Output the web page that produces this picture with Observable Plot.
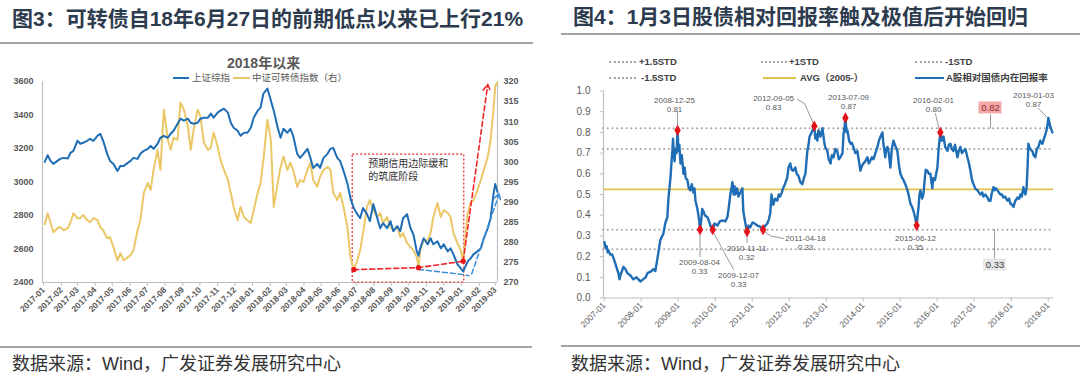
<!DOCTYPE html>
<html><head><meta charset="utf-8">
<script src="https://cdn.jsdelivr.net/npm/d3@7"></script>
<script src="https://cdn.jsdelivr.net/npm/@observablehq/plot@0.6"></script>
<style>
html,body{margin:0;padding:0;background:#fff;}
body{position:relative;width:1080px;height:375px;overflow:hidden;font-family:"Liberation Sans",Arial,"Noto Sans CJK SC",sans-serif;}
.a{position:absolute;white-space:nowrap;}
.title{font-size:21px;line-height:21px;font-weight:bold;color:#2d3b4e;font-family:"Liberation Sans","Noto Sans CJK SC",sans-serif;}
.rule{position:absolute;height:2px;background:#a3a3a3;}
.src{font-size:18px;line-height:18px;color:#333;font-family:"Liberation Sans","Noto Sans CJK SC",sans-serif;}
.lg{font-size:9.5px;line-height:10px;color:#595959;font-family:"Liberation Sans","Noto Sans CJK SC",sans-serif;}
.lgb{font-size:9.5px;line-height:10px;color:#404040;font-weight:bold;font-family:"Liberation Sans","Noto Sans CJK SC",sans-serif;}
.dotline{position:absolute;height:0;border-top:2px dotted #a6a6a6;}
.sw{position:absolute;height:2px;}
.plot{position:absolute;}
</style></head><body>
<div class="a title" style="left:12px;top:8px">图3：可转债自18年6月27日的前期低点以来已上行21%</div>
<div class="rule" style="left:0;top:42px;width:533px"></div>
<div class="a title" style="left:573px;top:6px">图4：1月3日股债相对回报率触及极值后开始回归</div>
<div class="rule" style="left:561px;top:33px;width:519px"></div>

<div class="a" style="left:227px;top:56px;font-size:14px;line-height:14px;font-weight:bold;color:#595959">2018年以来</div>
<div class="sw" style="left:173px;top:77px;width:16px;background:#1f6db5"></div>
<div class="a lg" style="left:192px;top:73px">上证综指</div>
<div class="sw" style="left:233px;top:77px;width:17px;background:#ecc767"></div>
<div class="a lg" style="left:252px;top:73px">中证可转债指数（右）</div>

<div class="dotline" style="left:609px;top:61px;width:27px"></div>
<div class="a lgb" style="left:639px;top:57px">+1.5STD</div>
<div class="dotline" style="left:761px;top:61px;width:26px"></div>
<div class="a lgb" style="left:789px;top:57px">+1STD</div>
<div class="dotline" style="left:915px;top:61px;width:27px"></div>
<div class="a lgb" style="left:945px;top:57px">-1STD</div>
<div class="dotline" style="left:609px;top:77px;width:27px"></div>
<div class="a lgb" style="left:641px;top:73px">-1.5STD</div>
<div class="sw" style="left:763px;top:77px;width:33px;background:#e3c14f"></div>
<div class="a lgb" style="left:800px;top:73px">AVG（2005-）</div>
<div class="sw" style="left:915px;top:77px;width:29px;background:#1f6db5"></div>
<div class="a lgb" style="left:946px;top:73px">A股相对国债内在回报率</div>

<div id="left" class="plot" style="left:0;top:50px"></div>
<div id="right" class="plot" style="left:540px;top:80px"></div>

<div class="rule" style="left:0;top:346px;width:532px"></div>
<div class="a src" style="left:12px;top:355px">数据来源：Wind，广发证券发展研究中心</div>
<div class="rule" style="left:561px;top:345px;width:519px"></div>
<div class="a src" style="left:571px;top:355px">数据来源：Wind，广发证券发展研究中心</div>

<script>
// ---------- Figure 3 data ----------
const leftDates = ["2017-01-03","2017-01-08","2017-01-13","2017-01-18","2017-01-25","2017-01-30","2017-02-05","2017-02-12","2017-02-17","2017-02-22","2017-03-01","2017-03-06","2017-03-11","2017-03-18","2017-03-23","2017-03-29","2017-04-05","2017-04-10","2017-04-15","2017-04-22","2017-04-27","2017-05-03","2017-05-10","2017-05-15","2017-05-21","2017-05-28","2017-06-02","2017-06-07","2017-06-14","2017-06-19","2017-06-25","2017-07-02","2017-07-07","2017-07-12","2017-07-19","2017-07-24","2017-07-30","2017-08-06","2017-08-11","2017-08-16","2017-08-23","2017-08-28","2017-09-03","2017-09-10","2017-09-15","2017-09-20","2017-09-27","2017-10-02","2017-10-08","2017-10-15","2017-10-20","2017-10-25","2017-11-01","2017-11-06","2017-11-12","2017-11-19","2017-11-24","2017-11-29","2017-12-06","2017-12-11","2017-12-17","2017-12-23","2017-12-29","2018-01-03","2018-01-10","2018-01-15","2018-01-20","2018-01-27","2018-02-02","2018-02-07","2018-02-14","2018-02-19","2018-02-24","2018-03-03","2018-03-08","2018-03-13","2018-03-20","2018-03-25","2018-03-31","2018-04-07","2018-04-12","2018-04-17","2018-04-24","2018-04-29","2018-05-05","2018-05-12","2018-05-17","2018-05-22","2018-05-29","2018-06-03","2018-06-09","2018-06-16","2018-06-21","2018-06-27","2018-07-03","2018-07-08","2018-07-13","2018-07-20","2018-07-25","2018-07-31","2018-08-07","2018-08-12","2018-08-17","2018-08-24","2018-08-30","2018-09-04","2018-09-11","2018-09-16","2018-09-21","2018-09-28","2018-10-04","2018-10-09","2018-10-15","2018-10-18","2018-10-21","2018-10-27","2018-11-03","2018-11-08","2018-11-13","2018-11-20","2018-11-26","2018-12-01","2018-12-08","2018-12-13","2018-12-18","2018-12-25","2018-12-31","2019-01-04","2019-01-12","2019-01-17","2019-01-22","2019-01-29","2019-02-04","2019-02-09","2019-02-16","2019-02-21","2019-02-26","2019-03-01","2019-03-05"];
const shComposite = [3120,3160,3126,3108,3126,3138,3144,3140,3174,3186,3246,3228,3234,3246,3258,3246,3276,3288,3246,3168,3126,3108,3066,3096,3096,3114,3126,3144,3138,3168,3186,3198,3216,3198,3228,3264,3276,3264,3288,3306,3348,3378,3366,3378,3354,3348,3354,3378,3384,3384,3408,3384,3414,3426,3438,3414,3354,3324,3306,3276,3294,3294,3324,3384,3426,3444,3528,3558,3486,3426,3324,3264,3318,3294,3318,3276,3168,3144,3168,3198,3144,3084,3108,3084,3144,3168,3198,3204,3144,3126,3066,2988,2904,2844,2808,2784,2844,2808,2766,2868,2784,2724,2754,2724,2766,2706,2736,2706,2784,2808,2724,2688,2586,2560,2604,2664,2628,2664,2628,2646,2604,2628,2586,2604,2568,2508,2484,2466,2526,2544,2568,2586,2604,2664,2724,2784,2928,2988,2940];
const cbIndex = [284.5,287.2,285,282.5,283.5,283.8,283,283.5,285,287.2,286,286,286.8,285.5,285,286,285.5,283.8,283,281,281.3,278.8,275.5,277.3,275.5,276.3,276.8,278,283,285.5,292.3,294.8,293,298,303,298,313,305.5,303,306,305.5,314.8,313,308.8,303,308,313,311.3,304.8,303,303.5,307.3,303.8,300.5,298,295.5,292.3,288.8,285.5,288.8,286.3,285.5,284.8,288,292.3,294.8,300.5,310.5,305.5,288.8,294.8,298.8,301.3,298,299.8,298,293.8,295.5,295,298,299.8,295.5,293.8,296.3,298,298.8,298,292.3,290.5,292.3,288.8,283.5,276.3,273.2,275.5,278,282.3,288.8,290.5,288,286.3,287.3,284.8,286.3,283.8,283,283.8,281.3,282.3,279.8,278.8,278,276.3,273.7,278,280.5,280.5,282.3,286.3,289.8,286.3,288,287.3,286.3,282.3,279.8,278,275.3,287.3,289.8,290.5,293,295.5,298,301.3,305.5,313,318.8,319.8];
const leftTicks = [2400,2600,2800,3000,3200,3400,3600];
const cbTicks = [270,275,280,285,290,295,300,305,310,315,320];
// annotation values (cb index units / SH index units)
const lowDates = ["2018-06-27","2018-10-18","2019-01-04"];
const lowValues = [273.2,273.7,275.3];
const boxDates = ["2018-06-25","2019-01-06"];
const boxValues = [270,301.8];
const riseArrowEnd = {date:"2019-02-16", value:319.3};
const blueDashDates = ["2018-10-18","2019-01-03","2019-01-14"];
const blueDashValues = [2478,2448,2440];
const blueArrow = {from:["2019-01-19",2452], to:["2019-03-08",2930]};

// ---------- Figure 4 data ----------
const rrDates = ["2007-01-04","2007-01-15","2007-01-25","2007-02-05","2007-02-12","2007-03-01","2007-03-20","2007-04-05","2007-04-19","2007-05-08","2007-05-21","2007-06-01","2007-06-10","2007-06-25","2007-07-09","2007-07-29","2007-08-18","2007-09-15","2007-10-16","2007-11-15","2007-12-24","2008-01-20","2008-02-15","2008-03-03","2008-04-12","2008-05-01","2008-05-20","2008-06-09","2008-06-25","2008-07-08","2008-08-07","2008-08-25","2008-09-15","2008-09-26","2008-10-16","2008-10-28","2008-11-04","2008-11-10","2008-11-18","2008-11-25","2008-12-04","2008-12-15","2008-12-25","2009-01-04","2009-01-12","2009-01-23","2009-02-05","2009-02-11","2009-02-21","2009-03-05","2009-03-15","2009-04-01","2009-04-15","2009-04-30","2009-05-15","2009-05-29","2009-06-10","2009-06-20","2009-07-09","2009-07-25","2009-08-04","2009-08-15","2009-08-25","2009-09-06","2009-09-20","2009-10-16","2009-11-01","2009-11-14","2009-12-07","2009-12-25","2010-01-22","2010-02-15","2010-03-13","2010-04-10","2010-05-01","2010-05-15","2010-05-30","2010-06-10","2010-06-20","2010-07-01","2010-07-10","2010-07-19","2010-08-05","2010-08-18","2010-09-05","2010-09-26","2010-10-05","2010-10-15","2010-10-26","2010-11-11","2010-11-25","2010-12-10","2011-01-04","2011-01-25","2011-02-21","2011-03-20","2011-04-18","2011-05-10","2011-05-30","2011-06-15","2011-06-28","2011-07-10","2011-07-27","2011-08-15","2011-09-05","2011-09-20","2011-10-04","2011-10-20","2011-11-02","2011-11-20","2011-12-12","2011-12-25","2012-01-12","2012-01-25","2012-02-10","2012-03-01","2012-03-15","2012-04-01","2012-04-20","2012-05-10","2012-05-25","2012-06-09","2012-06-28","2012-07-10","2012-07-20","2012-08-10","2012-09-05","2012-09-15","2012-09-25","2012-10-05","2012-10-16","2012-11-05","2012-11-24","2012-12-10","2012-12-20","2013-01-12","2013-01-25","2013-02-12","2013-02-25","2013-03-14","2013-04-01","2013-04-19","2013-05-05","2013-05-21","2013-06-10","2013-06-20","2013-07-01","2013-07-09","2013-07-20","2013-07-29","2013-08-15","2013-08-28","2013-09-10","2013-09-26","2013-10-15","2013-11-04","2013-11-20","2013-12-04","2013-12-20","2014-01-03","2014-01-20","2014-02-11","2014-02-25","2014-03-13","2014-03-28","2014-04-12","2014-05-01","2014-05-21","2014-06-05","2014-06-20","2014-07-09","2014-07-19","2014-08-07","2014-08-15","2014-08-28","2014-09-10","2014-09-26","2014-10-10","2014-10-26","2014-11-10","2014-12-04","2014-12-20","2015-01-03","2015-01-20","2015-02-02","2015-02-20","2015-03-14","2015-03-28","2015-04-12","2015-04-28","2015-05-12","2015-05-28","2015-06-12","2015-06-22","2015-07-01","2015-07-10","2015-07-20","2015-08-05","2015-08-18","2015-09-01","2015-09-10","2015-09-26","2015-10-10","2015-10-26","2015-11-05","2015-11-14","2015-11-24","2015-12-10","2016-01-03","2016-01-15","2016-02-01","2016-02-15","2016-03-03","2016-03-20","2016-04-12","2016-04-25","2016-05-11","2016-05-25","2016-06-09","2016-06-25","2016-07-19","2016-08-01","2016-08-17","2016-09-01","2016-09-16","2016-10-05","2016-10-25","2016-11-10","2016-11-24","2016-12-10","2016-12-24","2017-01-10","2017-02-02","2017-02-15","2017-03-03","2017-03-20","2017-04-02","2017-04-20","2017-05-11","2017-05-25","2017-06-10","2017-06-20","2017-07-09","2017-07-20","2017-08-01","2017-08-17","2017-09-01","2017-09-16","2017-10-01","2017-10-16","2017-11-01","2017-11-24","2017-12-10","2017-12-24","2018-01-10","2018-01-23","2018-02-10","2018-03-03","2018-03-20","2018-04-01","2018-04-15","2018-05-01","2018-05-20","2018-06-01","2018-06-10","2018-06-19","2018-07-05","2018-07-28","2018-08-10","2018-08-27","2018-09-10","2018-09-26","2018-10-15","2018-11-04","2018-11-20","2018-12-04","2018-12-20","2019-01-03","2019-01-20","2019-02-11"];
const rrValues = [0.27,0.24,0.25,0.22,0.23,0.21,0.21,0.19,0.17,0.14,0.12,0.09,0.11,0.13,0.15,0.14,0.12,0.11,0.09,0.10,0.08,0.09,0.10,0.12,0.13,0.14,0.13,0.19,0.24,0.28,0.31,0.36,0.39,0.48,0.58,0.67,0.71,0.77,0.70,0.66,0.72,0.70,0.81,0.71,0.74,0.65,0.69,0.66,0.60,0.63,0.58,0.57,0.53,0.52,0.55,0.51,0.53,0.47,0.43,0.38,0.33,0.37,0.43,0.42,0.40,0.39,0.37,0.35,0.33,0.36,0.35,0.37,0.375,0.37,0.39,0.44,0.50,0.53,0.56,0.50,0.54,0.50,0.53,0.49,0.51,0.53,0.42,0.39,0.36,0.32,0.35,0.34,0.365,0.36,0.35,0.345,0.33,0.35,0.36,0.38,0.41,0.50,0.45,0.48,0.47,0.50,0.49,0.51,0.53,0.55,0.58,0.63,0.65,0.62,0.615,0.63,0.60,0.59,0.56,0.55,0.58,0.60,0.71,0.74,0.78,0.80,0.83,0.77,0.79,0.76,0.81,0.78,0.82,0.76,0.73,0.71,0.67,0.65,0.69,0.68,0.72,0.71,0.67,0.68,0.70,0.79,0.83,0.87,0.80,0.81,0.76,0.745,0.75,0.73,0.70,0.71,0.66,0.615,0.64,0.65,0.66,0.68,0.65,0.665,0.68,0.67,0.70,0.73,0.76,0.78,0.80,0.745,0.68,0.72,0.73,0.70,0.63,0.72,0.76,0.74,0.71,0.64,0.60,0.58,0.57,0.55,0.52,0.49,0.455,0.44,0.42,0.39,0.35,0.40,0.44,0.50,0.52,0.48,0.50,0.58,0.62,0.615,0.60,0.60,0.56,0.53,0.58,0.57,0.63,0.72,0.80,0.76,0.78,0.73,0.71,0.74,0.745,0.72,0.71,0.74,0.68,0.71,0.73,0.70,0.71,0.72,0.68,0.65,0.615,0.57,0.55,0.53,0.52,0.51,0.50,0.51,0.49,0.50,0.485,0.47,0.47,0.50,0.535,0.52,0.53,0.52,0.51,0.50,0.50,0.485,0.49,0.47,0.48,0.455,0.45,0.44,0.47,0.485,0.48,0.50,0.49,0.535,0.50,0.53,0.62,0.745,0.72,0.71,0.69,0.68,0.72,0.73,0.76,0.745,0.77,0.79,0.82,0.87,0.83,0.80];
const stdLevels = [0.82,0.72,0.33,0.235]; // +1.5, +1, -1, -1.5 STD
const avgLevel = 0.525;
const extremeDates = ["2008-12-25","2012-09-05","2013-07-09","2016-02-01","2009-08-04","2009-12-07","2010-11-11","2011-04-18","2015-06-12"];
const extremeValues = [0.81,0.83,0.87,0.80,0.33,0.33,0.32,0.33,0.35];
const latestDate = "2019-01-03", latestValue = 0.87;

// ---------- helpers ----------
const D = s => new Date(s);
const toLeft = v => 2400 + (v - 270) * 24;
const fromLeft = y => 270 + (y - 2400) / 24;

const leftData = leftDates.map((d, i) => ({date: D(d), sh: shComposite[i], cb: toLeft(cbIndex[i])}));
const lows = lowDates.map((d, i) => ({date: D(d), y: toLeft(lowValues[i])}));
const leftDomain = [D("2016-12-30"), D("2019-03-05")];

const left = Plot.plot({
  width: 540, height: 290,
  marginLeft: 42, marginRight: 43, marginTop: 31, marginBottom: 58,
  style: {fontFamily: "Liberation Sans, Arial, sans-serif", fontSize: "9px", color: "#595959", background: "transparent", overflow: "visible"},
  x: {type: "utc", domain: leftDomain, label: null},
  y: {domain: [2400, 3600], label: null},
  marks: [
    Plot.ruleX([leftDomain[0], leftDomain[1]], {stroke: "#bfbfbf", strokeWidth: 1.2}),
    Plot.ruleY([2400], {stroke: "#bfbfbf", strokeWidth: 1.2}),
    Plot.axisY(leftTicks, {anchor: "left", label: null, tickSize: 0, tickPadding: 9, fontWeight: "bold", fontSize: 9, fill: "#595959", tickFormat: d => String(d)}),
    Plot.axisY(cbTicks.map(toLeft), {anchor: "right", label: null, tickSize: 0, tickPadding: 6, fontWeight: "bold", fontSize: 9, fill: "#595959", tickFormat: d => String(Math.round(fromLeft(d)))}),
    Plot.axisX(d3.utcMonth.range(D("2017-01-01"), D("2019-03-02")), {label: null, tickRotate: -45, tickSize: 4, tickPadding: 2, stroke: "#bfbfbf", fill: "#595959", fontWeight: "bold", fontSize: 8.5, tickFormat: d3.utcFormat("%Y-%m")}),
    Plot.rect([0], {x1: () => D(boxDates[0]), x2: () => D(boxDates[1]), y1: () => toLeft(boxValues[0]), y2: () => toLeft(boxValues[1]), fill: "none", stroke: "#e8262a", strokeWidth: 1.2, strokeDasharray: "2,2"}),
    Plot.text(["预期信用边际缓和\n的筑底阶段"], {x: () => D("2018-07-22"), y: () => toLeft(301.5), textAnchor: "start", lineAnchor: "top", dy: 2, lineHeight: 1.3, fontSize: 10, fill: "#333", fontFamily: "Noto Sans CJK SC, sans-serif"}),
    Plot.line(leftData, {x: "date", y: "cb", stroke: "#ecc767", strokeWidth: 2}),
    Plot.line(leftData, {x: "date", y: "sh", stroke: "#1f6db5", strokeWidth: 2}),
    Plot.line(lows, {x: "date", y: "y", stroke: "#f0282d", strokeWidth: 1.6, strokeDasharray: "5,3"}),
    Plot.arrow([0], {x1: () => D(lowDates[2]), y1: () => toLeft(lowValues[2]), x2: () => D(riseArrowEnd.date), y2: () => toLeft(riseArrowEnd.value), stroke: "#f0282d", strokeWidth: 1.6, strokeDasharray: "5,3", headLength: 7}),
    Plot.line(blueDashDates.map((d, i) => ({date: D(d), y: blueDashValues[i]})), {x: "date", y: "y", stroke: "#3f8fd6", strokeWidth: 1.5, strokeDasharray: "5,3"}),
    Plot.arrow([0], {x1: () => D(blueArrow.from[0]), y1: () => blueArrow.from[1], x2: () => D(blueArrow.to[0]), y2: () => blueArrow.to[1], stroke: "#3f8fd6", strokeWidth: 1.5, strokeDasharray: "5,3", headLength: 6}),
    Plot.dot(lows, {x: "date", y: "y", r: 2.6, fill: "#e8141b", stroke: "none"})
  ]
});
document.getElementById("left").append(left);

// ---------- Figure 4 ----------
const rr = rrDates.map((d, i) => ({date: D(d), v: rrValues[i]}));
const ext = extremeDates.map((d, i) => ({date: D(d), v: extremeValues[i], label: d + "\n" + extremeValues[i].toFixed(2)}));
const rightDomain = [D("2006-12-25"), D("2019-02-22")];
// label placement (date, value)
const labelPos = [["2008-11-25",0.935],["2011-07-31",0.942],["2013-08-09",0.949],["2015-11-26",0.935],["2009-07-30",0.152],["2010-08-19",0.087],["2010-11-06",0.22],["2012-06-10",0.268],["2015-06-01",0.266]];
const labels = ext.map((e, i) => ({date: D(labelPos[i][0]), v: labelPos[i][1], label: e.label}));
labels.push({date: D("2018-08-09"), v: 0.959, label: latestDate + "\n" + latestValue.toFixed(2)});
const leaders = [
  [["2008-12-25",0.895],["2008-12-25",0.82]],
  [["2012-03-23",0.959],["2012-05-31",0.94],["2012-08-28",0.843]],
  [["2015-12-14",0.891],["2016-01-24",0.809]],
  [["2018-09-27",0.915],["2019-01-03",0.867]],
  [["2009-08-04",0.32],["2009-08-04",0.20]],
  [["2009-12-10",0.32],["2010-07-01",0.138]],
  [["2010-11-11",0.312],["2010-11-11",0.268]],
  [["2011-05-03",0.32],["2011-07-01",0.30],["2011-11-06",0.287]],
  [["2017-06-10",0.886],["2017-06-10",stdLevels[0]]],
  [["2017-07-20",stdLevels[2]],["2017-07-20",0.19]]
].flatMap((seg, k) => seg.map(([d, v]) => ({k, date: D(d), v})));
const boxes = [
  {date: D("2017-06-10"), v: 0.918, text: stdLevels[0].toFixed(2), fill: "#f3a9a9", color: "#8f2a2a"},
  {date: D("2017-07-25"), v: 0.159, text: stdLevels[2].toFixed(2), fill: "#e6e6e6", color: "#404040"}
];

const right = Plot.plot({
  width: 540, height: 262,
  marginLeft: 63, marginRight: 27, marginTop: 10.5, marginBottom: 44.5,
  style: {fontFamily: "Liberation Sans, Arial, sans-serif", fontSize: "9.5px", color: "#595959", background: "transparent", overflow: "visible"},
  x: {type: "utc", domain: rightDomain, label: null},
  y: {domain: [0, 1], label: null},
  marks: [
    Plot.ruleX([rightDomain[0]], {stroke: "#bfbfbf", strokeWidth: 1.2}),
    Plot.ruleY([0], {stroke: "#bfbfbf", strokeWidth: 1.2}),
    Plot.axisY(d3.range(0, 1.0001, 0.1), {anchor: "left", label: null, tickSize: 3, tickPadding: 10, stroke: "#bfbfbf", fill: "#595959", fontSize: 10, tickFormat: d3.format(".1f")}),
    Plot.axisX(d3.utcYear.range(D("2007-01-01"), D("2019-01-02")), {label: null, tickRotate: -45, tickSize: 4, tickPadding: 2, stroke: "#bfbfbf", fill: "#595959", fontSize: 8.5, tickFormat: d3.utcFormat("%Y-%m")}),
    Plot.ruleY(stdLevels, {x1: rightDomain[0], x2: rightDomain[1], stroke: "#a6a6a6", strokeWidth: 2, strokeLinecap: "round", strokeDasharray: "0.1,4.6"}),
    Plot.ruleY([avgLevel], {x1: rightDomain[0], x2: rightDomain[1], stroke: "#e3c14f", strokeWidth: 1.8}),
    Plot.line(leaders, {x: "date", y: "v", z: "k", stroke: "#7f7f7f", strokeWidth: 0.8, curve: "linear"}),
    Plot.line(rr, {x: "date", y: "v", stroke: "#1f6db5", strokeWidth: 2.4}),
    Plot.dot(ext, {x: "date", y: "v", symbol: "diamond", r: 3.4, fill: "#e3141b", stroke: "none"}),
    Plot.text(labels, {x: "date", y: "v", text: "label", lineAnchor: "middle", lineHeight: 1.12, fontSize: 8, fill: "#595959"}),
    Plot.rect(boxes, {x1: "date", x2: "date", y1: "v", y2: "v", insetLeft: -11.5, insetRight: -11.5, insetTop: -6, insetBottom: -6, fill: d => d.fill}),
    Plot.text(boxes, {x: "date", y: "v", text: "text", fill: d => d.color, fontSize: 9.5})
  ]
});
document.getElementById("right").append(right);
</script>
</body></html>
